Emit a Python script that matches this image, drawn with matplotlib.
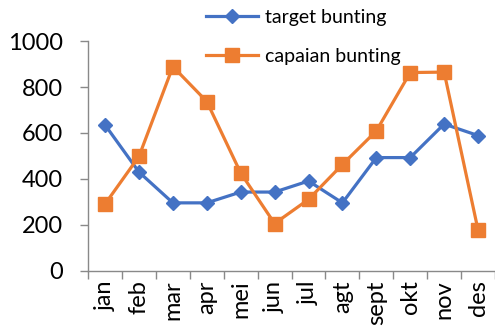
import numpy as np
import matplotlib.pyplot as plt

plt.rcParams['font.family'] = ['Lato', 'DejaVu Sans']

bulan = ['jan', 'feb', 'mar', 'apr', 'mei', 'jun', 'jul', 'agt', 'sept', 'okt', 'nov', 'des']
target_bunting = [635, 430, 296, 296, 343, 343, 391, 296, 493, 493, 639, 589]
capaian_bunting = [291, 498, 889, 737, 426, 206, 311, 463, 609, 863, 865, 178]

fig = plt.figure(figsize=(4.95, 3.34), dpi=100)
ax = fig.add_axes([0.178, 0.189, 0.822, 0.688])

x = np.arange(len(bulan))
ax.plot(x, target_bunting, color='#4472C4', lw=2.3, marker='D', ms=7,
        label='target bunting')
ax.plot(x, capaian_bunting, color='#ED7D31', lw=2.3, marker='s', ms=9.5,
        label='capaian bunting')

ax.set_xlim(-0.5, len(bulan) - 0.5)
ax.set_ylim(0, 1000)
ax.set_yticks([0, 200, 400, 600, 800, 1000])
ax.set_xticks(x)
ax.set_xticklabels(bulan, rotation=90)
# tick marks sit between categories
ax.set_xticks(np.arange(len(bulan) + 1) - 0.5, minor=True)
ax.tick_params(axis='x', which='major', length=0, labelsize=17, pad=7)
ax.tick_params(axis='x', which='minor', length=6, color='#898989', width=1)
ax.tick_params(axis='y', length=6, color='#898989', width=1, labelsize=17, pad=12)

for s in ['top', 'right']:
    ax.spines[s].set_visible(False)
for s in ['left', 'bottom']:
    ax.spines[s].set_color('#898989')
    ax.spines[s].set_linewidth(1)

fig.legend(loc='upper left', bbox_to_anchor=(0.38, 1.025), frameon=False,
           fontsize=14, handlelength=2.7, labelspacing=1.1, handletextpad=0.35)

fig.savefig('out.png', dpi=100)
